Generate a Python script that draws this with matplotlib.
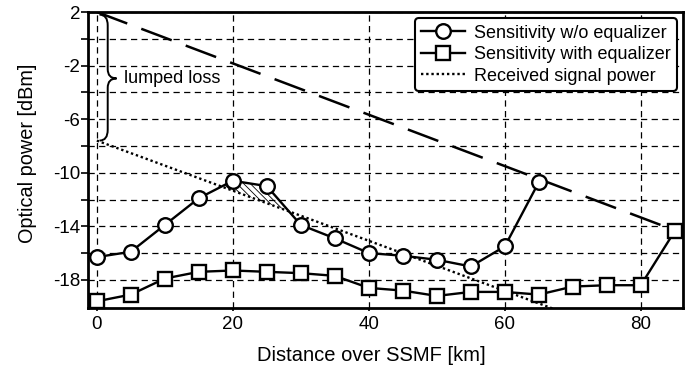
import numpy as np
import matplotlib
matplotlib.use('Agg')
import matplotlib.pyplot as plt
from matplotlib.path import Path
from matplotlib.patches import PathPatch

plt.rcParams['font.family'] = ['Liberation Sans', 'DejaVu Sans']
plt.rcParams['axes.unicode_minus'] = False

# Sensitivity without equalizer
dist_wo = [0, 5, 10, 15, 20, 25, 30, 35, 40, 45, 50, 55, 60, 65]
sens_wo = [-16.3, -15.9, -13.9, -11.9, -10.6, -11.0, -13.9, -14.9, -16.0, -16.2, -16.5, -17.0, -15.5, -10.7]

# Sensitivity with equalizer
dist_eq = [0, 5, 10, 15, 20, 25, 30, 35, 40, 45, 50, 55, 60, 65, 70, 75, 80, 85]
sens_eq = [-19.6, -19.1, -17.9, -17.4, -17.3, -17.4, -17.5, -17.7, -18.6, -18.8, -19.2, -18.9, -18.9, -19.1,
           -18.5, -18.4, -18.4, -14.35]

# launch power line and received signal power line (after lumped loss)
launch_x = [0, 85]
launch_y = [2.0, -14.3]
rx_x = [0, 85]
rx_y = [-7.6, -23.5]

fig = plt.figure(figsize=(7, 3.73), dpi=100)
ax = fig.add_axes([0.1257, 0.1743, 0.85, 0.7935])

mk = dict(color='black', lw=1.7, markersize=10.5, markerfacecolor='white',
          markeredgecolor='black', markeredgewidth=1.7, clip_on=False, zorder=5)
ax.plot(dist_wo, sens_wo, marker='o', label='Sensitivity w/o equalizer', **mk)
ax.plot(dist_eq, sens_eq, marker='s', label='Sensitivity with equalizer', **mk)
ax.plot(rx_x, rx_y, color='black', lw=1.7, linestyle=(0, (1, 1.2)),
        label='Received signal power', zorder=3)
ax.plot(launch_x, launch_y, color='black', lw=1.8, linestyle=(0, (13, 6)), zorder=3)

# hatched area where sensitivity w/o equalizer exceeds received power
xx = np.linspace(dist_wo[0], dist_wo[-1], 2000)
curve = np.interp(xx, dist_wo, sens_wo)
rx = np.interp(xx, rx_x, rx_y)
plt.rcParams['hatch.linewidth'] = 0.6
ax.fill_between(xx, curve, rx, where=(curve > rx) & (xx < 35), interpolate=True,
                facecolor='none', edgecolor='black', hatch='\\\\\\\\\\', lw=0, zorder=2)

# brace marking the lumped loss
top, bot = launch_y[0], rx_y[0]
mid = -2.96
bx, c0, tip = 1.6, 0.4, 2.9
verts = [(c0, top - 0.2), (bx, top - 0.2), (bx, top - 1.0),
         (bx, mid + 0.7),
         (bx, mid), (tip, mid),
         (bx, mid), (bx, mid - 0.7),
         (bx, bot + 0.8),
         (bx, bot), (c0, bot)]
codes = [Path.MOVETO, Path.CURVE3, Path.CURVE3, Path.LINETO, Path.CURVE3, Path.CURVE3,
         Path.CURVE3, Path.CURVE3, Path.LINETO, Path.CURVE3, Path.CURVE3]
ax.add_patch(PathPatch(Path(verts, codes), facecolor='none', edgecolor='black', lw=1.4, zorder=4))
ax.text(4.0, mid, 'lumped loss', fontsize=13, va='center', ha='left',
        bbox=dict(facecolor='white', edgecolor='none', pad=1), zorder=4)

ax.set_xlim(-1.3, 86.2)
ax.set_ylim(-20.1, 2)
ax.set_xticks([0, 20, 40, 60, 80])
ax.set_yticks([2, -2, -6, -10, -14, -18])
ax.set_yticks([0, -4, -8, -12, -16], minor=True)
ax.tick_params(axis='y', which='major', labelsize=13.5, direction='out', length=5, width=1.2, pad=0.5)
ax.tick_params(axis='y', which='minor', direction='out', length=5, width=1.2)
ax.tick_params(axis='x', which='major', labelsize=13.5, direction='out', length=2, width=1.2, pad=4)
ax.grid(True, which='both', color='black', linestyle=(0, (5, 3.5)), lw=0.9)
ax.set_axisbelow(True)
for s in ax.spines.values():
    s.set_linewidth(2)

ax.set_xlabel('Distance over SSMF [km]', fontsize=14.5)
ax.set_ylabel('Optical power [dBm]', fontsize=14.3)
ax.xaxis.set_label_coords(0.476, -0.128)
ax.yaxis.set_label_coords(-0.086, 0.522)

leg = ax.legend(loc='upper right', fontsize=13, frameon=True, fancybox=True,
                handlelength=2.4, handletextpad=0.5, borderpad=0.35, labelspacing=0.25,
                borderaxespad=0.35)
leg.get_frame().set_edgecolor('black')
leg.get_frame().set_linewidth(1.5)
leg.get_frame().set_alpha(1)
for h in leg.legend_handles:
    h.set_markersize(10.5)

fig.savefig('out.png', dpi=100)
